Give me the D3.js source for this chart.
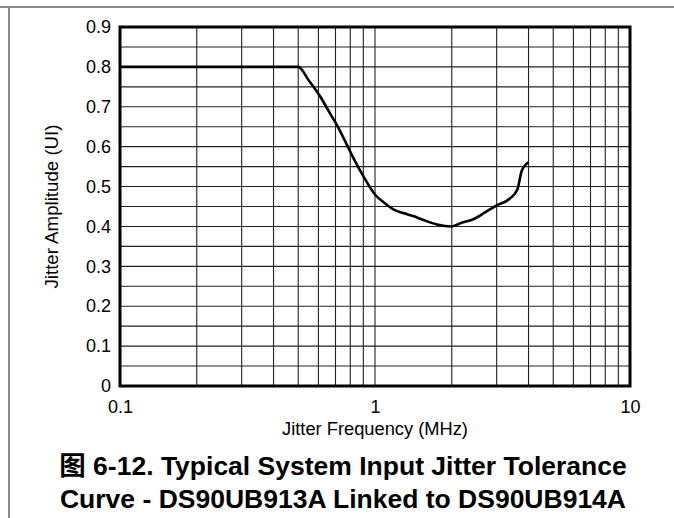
<!DOCTYPE html>
<html>
<head>
<meta charset="utf-8">
<script src="https://cdn.jsdelivr.net/npm/d3@7"></script>
<style>
  html, body { margin: 0; padding: 0; background: #fff; }
  svg { display: block; font-family: "Liberation Sans", Arial, sans-serif; }
</style>
</head>
<body>
<div id="chart"></div>
<script>
// jitter tolerance curve
const freqMHz = [0.1, 0.5, 0.55, 0.608, 0.66, 0.718, 0.77, 0.822, 0.9, 1.0, 1.1, 1.18, 1.3, 1.41, 1.55, 1.75, 2.0, 2.2, 2.43, 2.7, 3.0, 3.38, 3.62, 3.76, 4.0];
const amplitudeUI = [0.8, 0.8, 0.766, 0.727, 0.688, 0.648, 0.609, 0.572, 0.526, 0.48, 0.457, 0.443, 0.433, 0.426, 0.416, 0.405, 0.40, 0.41, 0.418, 0.435, 0.453, 0.47, 0.493, 0.539, 0.561];

const yTicks = [0, 0.1, 0.2, 0.3, 0.4, 0.5, 0.6, 0.7, 0.8, 0.9];
const xTicks = [0.1, 1, 10];
const captionLines = [
  '图 6-12. Typical System Input Jitter Tolerance',
  'Curve - DS90UB913A Linked to DS90UB914A'
];

const width = 674, height = 518;
const margin = { top: 27, right: 44, bottom: 132, left: 120 };
const innerWidth = width - margin.left - margin.right;
const innerHeight = height - margin.top - margin.bottom;

const svg = d3.select('#chart').append('svg')
  .attr('width', width)
  .attr('height', height);

// page frame lines (top and left)
svg.append('line').attr('x1', 0).attr('x2', width).attr('y1', 7).attr('y2', 7)
  .attr('stroke', '#8a8a8a').attr('stroke-width', 2);
svg.append('line').attr('x1', 9).attr('x2', 9).attr('y1', 7).attr('y2', height)
  .attr('stroke', '#8a8a8a').attr('stroke-width', 2);

const g = svg.append('g').attr('transform', `translate(${margin.left},${margin.top})`);

const x = d3.scaleLog().domain([0.1, 10]).range([0, innerWidth]);
const y = d3.scaleLinear().domain([0, 0.9]).range([innerHeight, 0]);

// grid: every 0.05 vertically, every log minor step horizontally
const hGrid = d3.range(0, 0.9001, 0.05);
g.append('g').selectAll('line').data(hGrid).enter().append('line')
  .attr('x1', 0).attr('x2', innerWidth)
  .attr('y1', d => y(d)).attr('y2', d => y(d))
  .attr('stroke', '#222').attr('stroke-width', 1.1);

g.append('g').selectAll('line').data(x.ticks()).enter().append('line')
  .attr('x1', d => x(d)).attr('x2', d => x(d))
  .attr('y1', 0).attr('y2', innerHeight)
  .attr('stroke', '#222').attr('stroke-width', 1.1);

// curve
const line = d3.line()
  .x((d, i) => x(freqMHz[i]))
  .y(d => y(d))
  .curve(d3.curveMonotoneX);

g.append('path')
  .datum(amplitudeUI)
  .attr('fill', 'none')
  .attr('stroke', '#000')
  .attr('stroke-width', 2.6)
  .attr('stroke-linejoin', 'round')
  .attr('d', line);

// plot border
g.append('rect')
  .attr('x', 0).attr('y', 0)
  .attr('width', innerWidth).attr('height', innerHeight)
  .attr('fill', 'none').attr('stroke', '#000').attr('stroke-width', 3);

// axes (labels only)
const yAxis = g.append('g')
  .call(d3.axisLeft(y).tickValues(yTicks).tickSize(0).tickPadding(9)
    .tickFormat(d => d === 0 ? '0' : d3.format('.1f')(d)));
yAxis.select('.domain').remove();
yAxis.selectAll('text').attr('font-size', 18).attr('fill', '#000')
  .attr('font-family', '"Liberation Sans", Arial, sans-serif');

const xAxis = g.append('g')
  .attr('transform', `translate(0,${innerHeight})`)
  .call(d3.axisBottom(x).tickValues(xTicks).tickSize(0).tickPadding(14)
    .tickFormat(d => String(d)));
xAxis.select('.domain').remove();
xAxis.selectAll('text').attr('font-size', 18).attr('fill', '#000')
  .attr('font-family', '"Liberation Sans", Arial, sans-serif');

// axis titles
g.append('text')
  .attr('x', innerWidth / 2).attr('y', innerHeight + 49)
  .attr('text-anchor', 'middle').attr('font-size', 18.3)
  .text('Jitter Frequency (MHz)');

svg.append('text')
  .attr('transform', `translate(58,${margin.top + innerHeight / 2}) rotate(-90)`)
  .attr('text-anchor', 'middle').attr('font-size', 18.7)
  .text('Jitter Amplitude (UI)');

// caption
svg.append('g').selectAll('text').data(captionLines).enter().append('text')
  .attr('x', 343).attr('y', (d, i) => 475 + i * 33)
  .attr('text-anchor', 'middle')
  .attr('font-size', 26.5).attr('font-weight', 'bold')
  .attr('font-family', '"Liberation Sans", "Noto Sans CJK SC", Arial, sans-serif')
  .text(d => d);
</script>
</body>
</html>
